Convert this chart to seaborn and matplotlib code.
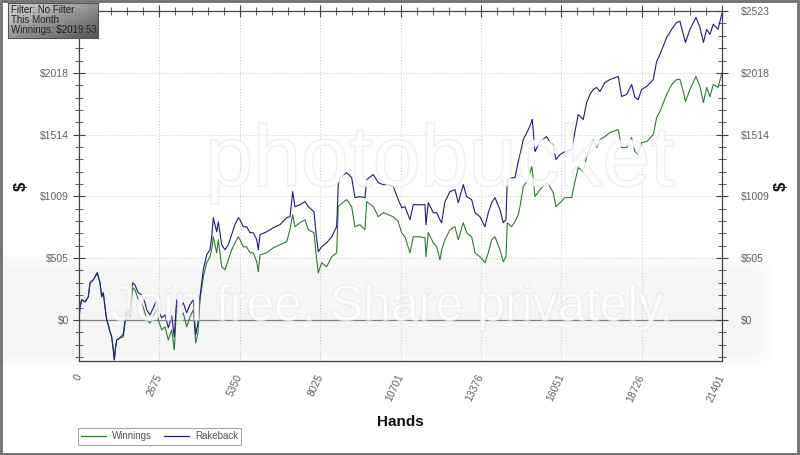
import numpy as np
import pandas as pd
import seaborn as sns
import matplotlib.pyplot as plt
import matplotlib.patheffects as pe
import matplotlib.transforms as mtransforms
from matplotlib.ticker import FixedLocator, MultipleLocator

# Values ######################################################################

hands = [0, 33, 90, 200, 310, 366, 476, 532, 609, 699, 755, 809, 865, 922, 975,
         1032, 1088, 1142, 1175, 1215, 1255, 1364, 1474, 1531, 1587, 1641, 1697,
         1754, 1787, 1864, 1973, 2087, 2197, 2253, 2363, 2473, 2586, 2639, 2752,
         2862, 2972, 3085, 3172, 3251, 3361, 3471, 3584, 3694, 3804, 3884, 3960,
         4027, 4137, 4250, 4360, 4416, 4470, 4583, 4636, 4749, 4859, 4969, 5082,
         5192, 5302, 5358, 5468, 5581, 5691, 5801, 5914, 5967, 6024, 6247, 6466,
         6689, 6912, 7022, 7112, 7188, 7355, 7521, 7631, 7821, 7887, 7964, 8077,
         8243, 8410, 8576, 8629, 8686, 8909, 9075, 9185, 9351, 9518, 9575, 9794,
         9961, 10127, 10294, 10460, 10626, 10740, 10849, 11016, 11126, 11348,
         11515, 11548, 11625, 11791, 11904, 12014, 12071, 12180, 12347, 12513,
         12623, 12790, 12903, 13069, 13179, 13345, 13512, 13622, 13735, 13845,
         14011, 14121, 14211, 14254, 14401, 14510, 14620, 14677, 14787, 14953,
         15066, 15086, 15176, 15342, 15565, 15675, 15785, 15875, 16008, 16175,
         16397, 16507, 16617, 16783, 16896, 17006, 17116, 17229, 17339, 17505,
         17672, 17948, 18061, 18227, 18394, 18503, 18613, 18727, 18893, 19113,
         19226, 19336, 19559, 19726, 19892, 20002, 20112, 20185, 20335, 20534,
         20667, 20783, 20890, 21000, 21110, 21267, 21401]

winnings = [0, 106, 164, 147, 188, 303, 327, 352, 385, 303, 188, 221, 106, 0, -41,
            -98, -139, -246, -327, -229, -164, -147, -139, -25, 25, 57, 25,
            188, 262, 246, 164, 139, 57, 0, -25, 25, 82, 0, -82,
            -57, -164, -82, -246, 139, 16, 57, -57, 25, 82, -188, -106,
            164, 352, 467, 516, 573, 679, 548, 655, 434, 409, 491, 573,
            630, 679, 655, 597, 597, 548, 548, 475, 393, 532, 548, 589,
            614, 638, 737, 859, 761, 794, 818, 737, 712, 548, 385, 467,
            434, 516, 548, 925, 941, 982, 925, 761, 778, 737, 966, 925,
            843, 876, 859, 843, 802, 712, 679, 548, 679, 679,
            671, 516, 712, 630, 597, 491, 573, 655, 737, 761,
            655, 794, 712, 679, 548, 516, 467, 548, 655, 679,
            573, 475, 516, 794, 761, 802, 859, 925, 1089, 1146,
            1252, 1228, 1007, 1064, 1121, 1089, 1039, 925, 958, 999,
            999, 1130, 1244, 1211, 1334, 1408, 1473, 1408, 1473, 1498,
            1531, 1555, 1408, 1408, 1490, 1375, 1350, 1449, 1457, 1514,
            1653, 1703, 1842, 1923, 1964, 1964, 1866, 1784, 1883, 1989,
            1907, 1776, 1899, 1825, 1923, 1899, 2019.53]

rakeback = [0, 106, 164, 147, 188, 303, 327, 352, 385, 303, 188, 221, 106, 0, -41,
            -98, -139, -246, -327, -229, -164, -147, -115, 0, 57, 82, 57,
            246, 303, 286, 221, 205, 139, 82, 41, 98, 164, 82, 16,
            41, -65, 33, -139, 164, 106, 139, 57, 123, 164, -123, -25,
            188, 409, 532, 573, 679, 835, 720, 802, 614, 573, 614, 696,
            778, 835, 818, 761, 761, 712, 712, 655, 573, 696, 720, 753,
            778, 835, 843, 1048, 925, 941, 966, 925, 884, 712, 557, 597,
            630, 679, 761, 1105, 1162, 1203, 1162, 999, 1007, 999, 1146, 1187,
            1121, 1105, 1105, 1089, 982, 917, 925, 818, 941, 941,
            941, 778, 958, 876, 876, 818, 794, 966, 1048, 1064,
            958, 1105, 1007, 982, 876, 843, 761, 876, 958, 999,
            900, 794, 818, 1146, 1162, 1162, 1293, 1350, 1473, 1555,
            1621, 1637, 1375, 1457, 1498, 1449, 1432, 1310, 1350, 1375,
            1391, 1539, 1678, 1637, 1776, 1842, 1883, 1899, 1866, 1940,
            1964, 1989, 1825, 1842, 1923, 1817, 1801, 1883, 1907, 1964,
            2112, 2169, 2308, 2374, 2431, 2439, 2333, 2267, 2374, 2472,
            2390, 2267, 2374, 2333, 2415, 2374, 2505]

y_ticks = [0, 505, 1009, 1514, 2018, 2523]
x_ticks = [0, 2675, 5350, 8025, 10701, 13376, 16051, 18726, 21401]

df = pd.DataFrame({
    "Hands": hands * 2,
    "Amount": winnings + rakeback,
    "Series": ["Winnings"] * len(hands) + ["Rakeback"] * len(hands),
})

colors = {"Winnings": "#2f7a2f", "Rakeback": "#1c1c78"}

# Plot ########################################################################

sns.set_style("white")
plt.rcParams["font.family"] = ["Liberation Sans", "DejaVu Sans"]

fig = plt.figure(figsize=(8, 4.55), dpi=100)

# soft gray banner of the watermark, behind everything
bg = fig.add_axes([0, 0, 1, 1], zorder=-5)
bg.set_axis_off()
rows = np.linspace(0, 1, 455)[:, None]
cols = np.linspace(0, 1, 800)[None, :]
vband = np.clip((rows - 0.555) / 0.04, 0, 1) * np.clip((0.81 - rows) / 0.03, 0, 1)
hband = np.clip((0.97 - cols) / 0.03, 0, 1)
bg.imshow(vband * hband, cmap="Greys", vmin=0, vmax=12, aspect="auto",
          extent=(0, 1, 0, 1), origin="upper")
bg.set_xlim(0, 1)
bg.set_ylim(0, 1)

ax = fig.add_axes([0.09875, 0.2066, 0.80375, 0.769])
ax.set_facecolor("none")

sns.lineplot(
    data=df, x="Hands", y="Amount", hue="Series", palette=colors,
    estimator=None, sort=False, linewidth=0.8, ax=ax, legend=False, zorder=3
)

ax.set_xlim(0, 21401)
ax.set_ylim(-336, 2523)

ax.xaxis.set_major_locator(FixedLocator(x_ticks))
ax.xaxis.set_minor_locator(MultipleLocator(21401 / 40))
ax.set_xticklabels([str(t) for t in x_ticks], rotation=65, ha="right",
                   va="center", rotation_mode="anchor")
shift = mtransforms.ScaledTranslation(5 / 100, 0, fig.dpi_scale_trans)
for lab in ax.get_xticklabels():
    lab.set_transform(lab.get_transform() + shift)

ax.yaxis.set_major_locator(FixedLocator(y_ticks))
ax.yaxis.set_minor_locator(MultipleLocator(2523 / 25))
# top-left label sits under the info box in the original
ax.set_yticklabels([f"${t}" for t in y_ticks[:-1]] + [""])

# right axis, same scale
ax2 = ax.twinx()
ax2.set_ylim(ax.get_ylim())
ax2.yaxis.set_major_locator(FixedLocator(y_ticks))
ax2.yaxis.set_minor_locator(MultipleLocator(2523 / 25))
ax2.set_yticklabels([f"${t}" for t in y_ticks])

for a in (ax, ax2):
    a.tick_params(which="both", direction="inout", color="#404040",
                  labelcolor="#606060", labelsize=7.5)
    a.tick_params(which="major", length=8, width=0.8)
    a.tick_params(which="minor", length=6, width=0.6)
    for s in a.spines.values():
        s.set_color("#404040")
        s.set_linewidth(0.8)
ax.tick_params(top=True, right=False, which="both")
ax.tick_params(axis="x", pad=6)
ax.tick_params(axis="y", pad=3)
ax2.tick_params(axis="y", pad=10)

ax.grid(True, which="major", linestyle=(0, (1, 2)), color="#c8c8c8", linewidth=0.7)
ax.axhline(0, color="#808080", linewidth=0.9, zorder=2)

ax.set_xlabel("Hands", fontsize=11, fontweight="bold", color="#111111", labelpad=8)
ax.set_ylabel("$", fontsize=12, fontweight="bold", color="#111111", labelpad=8)
fig.text(0.976, 0.59, "$", fontsize=12, fontweight="bold", color="#111111",
         rotation=90, ha="center", va="center")

# watermark text
halo = [pe.withStroke(linewidth=1.2, foreground="#e0e0e0")]
fig.text(0.55, 0.64, "photobucket", fontsize=62, color="white", alpha=0.6,
         ha="center", va="center", zorder=10, path_effects=halo)
fig.text(0.49, 0.325, "Join free. Share privately.", fontsize=36, color="white",
         alpha=0.6, ha="center", va="center", zorder=10, path_effects=halo)

# legend
handles = [plt.Line2D([], [], color=colors["Winnings"], lw=0.9),
           plt.Line2D([], [], color=colors["Rakeback"], lw=0.9)]
leg = fig.legend(handles, ["Winnings", "Rakeback"], loc="lower left",
                 bbox_to_anchor=(0.091, 0.012), ncol=2, fontsize=7,
                 frameon=True, fancybox=False, handlelength=2.6,
                 borderpad=0.35, columnspacing=1.2, handletextpad=0.6,
                 labelcolor="#555555")
leg.get_frame().set_edgecolor("#909090")
leg.get_frame().set_linewidth(0.8)

# info box in top-left corner (gray gradient)
bax = fig.add_axes([0.010, 0.9165, 0.112, 0.077], zorder=20)
grad = np.linspace(0, 1, 64)[None, :] + np.linspace(0, 1, 16)[:, None]
bax.imshow(grad, cmap="Greys", vmin=-1.2, vmax=3.2, aspect="auto",
           extent=(0, 1, 0, 1), origin="upper")
bax.set_xticks([])
bax.set_yticks([])
for s in bax.spines.values():
    s.set_color("#555555")
    s.set_linewidth(0.8)
bax.text(0.03, 0.94, "Filter: No Filter\nThis Month\nWinnings: $2019.53",
         fontsize=7, color="#222222", va="top", ha="left", linespacing=1.0,
         transform=bax.transAxes)

# outer frame
frame = plt.Rectangle((0.001, 0.002), 0.997, 0.996, transform=fig.transFigure,
                      fill=False, edgecolor="#6e6e6e", linewidth=2, zorder=30)
fig.patches.append(frame)

plt.savefig("out.png", dpi=100)
